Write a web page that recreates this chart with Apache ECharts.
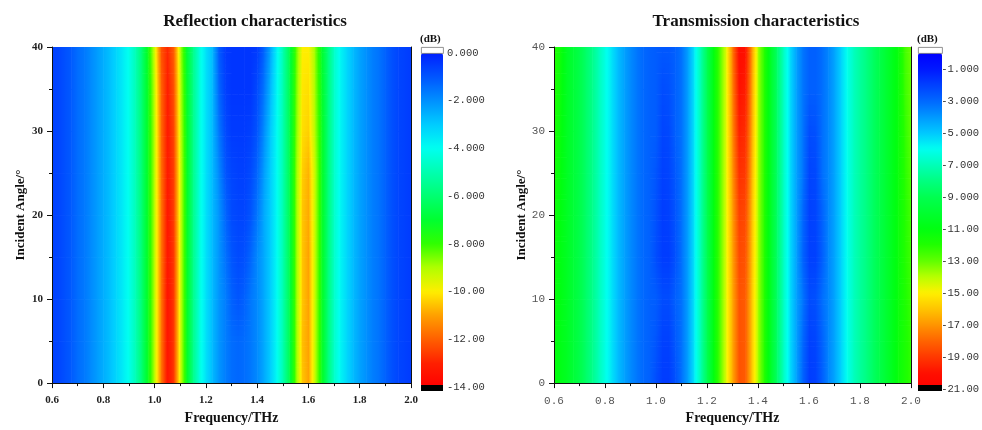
<!DOCTYPE html>
<html>
<head>
<meta charset="utf-8">
<script src="https://cdn.jsdelivr.net/npm/echarts@6/dist/echarts.min.js"></script>
<style>
  html,body{margin:0;padding:0;background:#fff;}
  #main{width:982px;height:430px;}
</style>
</head>
<body>
<div id="main"></div>
<script>
// frequency samples (THz) and incident angles (deg)
var freqs = [0.6,0.625,0.65,0.675,0.7,0.725,0.75,0.775,0.8,0.825,0.85,0.875,0.9,0.925,0.95,0.975,
  1.0,1.025,1.05,1.075,1.1,1.125,1.15,1.175,1.2,1.225,1.25,1.275,1.3,1.325,1.35,1.375,1.4,1.425,1.45,1.475,
  1.5,1.525,1.55,1.575,1.6,1.625,1.65,1.675,1.7,1.725,1.75,1.775,1.8,1.825,1.85,1.875,1.9,1.925,1.95,1.975,2.0];
var angles = [0,5,10,15,20,25,30,35,40];

// reflection (dB), one row per angle
var refl0  = [-0.6,-0.7,-0.9,-1.1,-1.4,-1.6,-1.9,-2.2,-2.5,-2.8,-3.2,-3.6,-4.1,-4.9,-6.0,-7.4,-9.2,-11.6,-13.4,-12.6,-9.4,-7.2,-5.6,-4.3,-3.4,-2.7,-2.1,-1.7,-1.4,-1.3,-1.4,-1.6,-1.9,-2.4,-3.0,-3.9,-5.0,-6.5,-8.5,-10.5,-11.0,-9.2,-7.4,-5.9,-4.6,-3.8,-3.2,-2.7,-2.3,-2.0,-1.7,-1.5,-1.2,-0.9,-0.7,-0.6,-0.5];
var refl5  = [-0.6,-0.7,-0.9,-1.1,-1.4,-1.6,-1.9,-2.2,-2.5,-2.8,-3.2,-3.6,-4.1,-4.9,-6.0,-7.4,-9.2,-11.6,-13.4,-12.6,-9.4,-7.2,-5.6,-4.3,-3.4,-2.7,-2.1,-1.7,-1.4,-1.3,-1.4,-1.6,-1.9,-2.4,-3.0,-3.9,-5.0,-6.5,-8.5,-10.6,-11.0,-9.2,-7.4,-5.9,-4.6,-3.8,-3.2,-2.7,-2.3,-2.0,-1.7,-1.5,-1.2,-0.9,-0.7,-0.6,-0.5];
var refl10 = [-0.6,-0.7,-0.9,-1.1,-1.4,-1.6,-1.9,-2.2,-2.5,-2.8,-3.2,-3.6,-4.1,-4.9,-6.0,-7.4,-9.2,-11.6,-13.4,-12.6,-9.4,-7.2,-5.6,-4.3,-3.4,-2.7,-2.1,-1.7,-1.2,-1.0,-1.2,-1.6,-1.9,-2.4,-3.0,-3.9,-5.0,-6.5,-8.5,-10.5,-11.0,-9.2,-7.4,-5.9,-4.6,-3.8,-3.2,-2.7,-2.3,-2.0,-1.7,-1.5,-1.2,-0.9,-0.7,-0.6,-0.5];
var refl15 = [-0.6,-0.7,-0.9,-1.1,-1.4,-1.6,-1.9,-2.2,-2.5,-2.8,-3.2,-3.6,-4.1,-4.9,-6.0,-7.4,-9.2,-11.6,-13.3,-12.6,-9.4,-7.2,-5.6,-4.3,-3.4,-2.7,-2.1,-1.5,-1.0,-0.8,-0.9,-1.3,-1.9,-2.4,-3.0,-3.9,-5.0,-6.5,-8.5,-10.5,-11.0,-9.2,-7.4,-5.9,-4.6,-3.8,-3.2,-2.7,-2.3,-2.0,-1.7,-1.5,-1.2,-0.9,-0.7,-0.6,-0.5];
var refl20 = [-0.6,-0.7,-0.9,-1.1,-1.4,-1.6,-1.9,-2.2,-2.5,-2.8,-3.2,-3.6,-4.1,-4.9,-6.0,-7.4,-9.2,-11.6,-13.3,-12.5,-9.4,-7.2,-5.6,-4.3,-3.4,-2.7,-2.1,-1.3,-0.8,-0.7,-0.7,-1.0,-1.6,-2.4,-3.0,-3.9,-5.0,-6.5,-8.5,-10.5,-10.9,-9.2,-7.4,-5.9,-4.6,-3.8,-3.2,-2.7,-2.3,-2.0,-1.7,-1.5,-1.2,-0.9,-0.7,-0.6,-0.5];
var refl25 = [-0.6,-0.7,-0.9,-1.1,-1.4,-1.6,-1.9,-2.2,-2.5,-2.8,-3.2,-3.6,-4.1,-4.9,-6.0,-7.4,-9.2,-11.7,-13.2,-12.5,-9.4,-7.2,-5.6,-4.3,-3.4,-2.7,-1.9,-1.0,-0.7,-0.6,-0.6,-0.8,-1.3,-2.2,-3.0,-3.9,-5.0,-6.5,-8.5,-10.4,-10.8,-9.2,-7.4,-5.9,-4.6,-3.8,-3.2,-2.7,-2.3,-2.0,-1.7,-1.5,-1.2,-0.9,-0.7,-0.6,-0.5];
var refl30 = [-0.6,-0.7,-0.9,-1.1,-1.4,-1.6,-1.9,-2.2,-2.5,-2.8,-3.2,-3.6,-4.1,-4.9,-6.0,-7.4,-9.2,-11.8,-13.2,-12.4,-9.3,-7.2,-5.6,-4.3,-3.4,-2.7,-1.6,-0.8,-0.5,-0.5,-0.5,-0.6,-1.0,-1.9,-2.9,-3.9,-5.0,-6.5,-8.4,-10.2,-10.4,-9.0,-7.4,-5.9,-4.6,-3.8,-3.2,-2.7,-2.3,-2.0,-1.7,-1.5,-1.2,-0.9,-0.7,-0.6,-0.5];
var refl35 = [-0.6,-0.7,-0.9,-1.1,-1.4,-1.6,-1.9,-2.2,-2.5,-2.8,-3.2,-3.6,-4.1,-4.9,-6.0,-7.4,-9.3,-11.9,-13.1,-12.2,-9.2,-7.1,-5.6,-4.3,-3.4,-2.7,-1.3,-0.6,-0.4,-0.4,-0.4,-0.4,-0.8,-1.5,-2.6,-3.8,-5.0,-6.5,-8.3,-10.1,-10.2,-8.9,-7.3,-5.9,-4.6,-3.8,-3.2,-2.7,-2.3,-2.0,-1.7,-1.5,-1.2,-0.9,-0.7,-0.6,-0.5];
var refl40 = [-0.6,-0.7,-0.9,-1.1,-1.4,-1.6,-1.9,-2.2,-2.5,-2.8,-3.2,-3.6,-4.1,-4.9,-6.0,-7.5,-9.5,-12.2,-12.9,-12.0,-9.0,-7.0,-5.6,-4.3,-3.4,-2.7,-1.1,-0.5,-0.4,-0.4,-0.4,-0.4,-0.5,-1.2,-2.3,-3.7,-5.0,-6.5,-8.2,-10.0,-10.0,-8.8,-7.2,-5.9,-4.6,-3.8,-3.2,-2.7,-2.3,-2.0,-1.7,-1.5,-1.2,-0.9,-0.7,-0.6,-0.5];
var reflection = [refl0, refl5, refl10, refl15, refl20, refl25, refl30, refl35, refl40];

// transmission (dB), one row per angle
var trans0  = [-11.2,-10.8,-10.4,-9.8,-9.2,-8.5,-7.8,-7.0,-6.2,-5.5,-4.8,-4.2,-3.7,-3.3,-3.0,-2.8,-2.3,-1.9,-1.9,-2.4,-3.2,-4.2,-5.6,-7.2,-9.0,-11.0,-12.8,-14.6,-16.6,-18.4,-18.2,-16.0,-13.8,-12.0,-10.2,-8.4,-6.8,-5.4,-4.2,-2.9,-1.9,-2.0,-2.7,-3.6,-4.3,-5.2,-6.1,-6.9,-7.5,-8.0,-8.6,-9.2,-9.9,-10.6,-11.3,-11.8,-12.3];
var trans5  = [-11.2,-10.8,-10.4,-9.8,-9.2,-8.5,-7.8,-7.0,-6.2,-5.5,-4.8,-4.2,-3.7,-3.3,-3.0,-2.8,-2.5,-2.0,-2.0,-2.6,-3.2,-4.2,-5.6,-7.2,-9.0,-11.0,-12.8,-14.6,-16.6,-18.4,-18.2,-16.0,-13.8,-12.0,-10.2,-8.4,-6.8,-5.4,-4.2,-3.0,-2.0,-2.1,-2.8,-3.6,-4.3,-5.2,-6.1,-6.9,-7.5,-8.0,-8.6,-9.2,-9.9,-10.6,-11.3,-11.8,-12.3];
var trans10 = [-11.3,-10.9,-10.4,-9.8,-9.2,-8.5,-7.8,-7.0,-6.2,-5.5,-4.8,-4.2,-3.7,-3.3,-3.0,-2.8,-2.7,-2.3,-2.3,-2.8,-3.2,-4.2,-5.6,-7.2,-9.0,-11.0,-12.8,-14.6,-16.6,-18.4,-18.2,-16.0,-13.8,-12.0,-10.2,-8.4,-6.8,-5.4,-4.2,-3.3,-2.3,-2.4,-3.1,-3.6,-4.3,-5.2,-6.1,-6.9,-7.5,-8.0,-8.6,-9.2,-9.9,-10.6,-11.3,-11.9,-12.4];
var trans15 = [-11.4,-10.9,-10.4,-9.8,-9.2,-8.5,-7.8,-7.0,-6.2,-5.5,-4.8,-4.2,-3.7,-3.3,-3.0,-2.8,-2.3,-1.9,-1.9,-2.4,-3.2,-4.2,-5.6,-7.2,-9.0,-11.0,-12.8,-14.6,-16.7,-18.6,-18.4,-16.1,-13.8,-12.0,-10.2,-8.4,-6.8,-5.4,-4.2,-2.9,-2.0,-2.0,-2.7,-3.6,-4.3,-5.2,-6.1,-6.9,-7.5,-8.0,-8.6,-9.2,-9.9,-10.6,-11.3,-12.0,-12.5];
var trans20 = [-11.5,-11.0,-10.4,-9.8,-9.2,-8.5,-7.8,-7.0,-6.2,-5.5,-4.8,-4.2,-3.7,-3.3,-3.0,-2.8,-2.4,-1.9,-2.0,-2.5,-3.2,-4.2,-5.6,-7.2,-9.0,-11.0,-12.8,-14.6,-16.8,-18.8,-18.6,-16.2,-13.8,-12.0,-10.2,-8.4,-6.8,-5.4,-4.2,-3.0,-2.0,-2.1,-2.8,-3.6,-4.3,-5.2,-6.1,-6.9,-7.5,-8.0,-8.6,-9.2,-9.9,-10.6,-11.3,-12.0,-12.6];
var trans25 = [-11.6,-11.1,-10.4,-9.8,-9.2,-8.5,-7.8,-7.0,-6.2,-5.5,-4.8,-4.2,-3.7,-3.3,-3.0,-2.8,-2.5,-2.0,-2.1,-2.6,-3.2,-4.2,-5.6,-7.2,-9.0,-11.0,-12.8,-14.6,-17.0,-19.2,-19.0,-16.4,-13.8,-12.0,-10.2,-8.4,-6.8,-5.4,-4.2,-3.3,-2.1,-2.2,-3.1,-3.6,-4.3,-5.2,-6.1,-6.9,-7.5,-8.0,-8.6,-9.2,-9.9,-10.6,-11.3,-12.1,-12.8];
var trans30 = [-11.8,-11.2,-10.4,-9.8,-9.2,-8.5,-7.8,-7.0,-6.2,-5.5,-4.8,-4.2,-3.7,-3.3,-3.0,-2.8,-2.7,-2.1,-2.2,-2.8,-3.2,-4.2,-5.6,-7.2,-9.0,-11.0,-12.8,-14.6,-17.2,-19.6,-19.3,-16.6,-13.8,-12.0,-10.2,-8.4,-6.8,-5.4,-4.2,-3.3,-2.3,-2.4,-3.1,-3.6,-4.3,-5.2,-6.1,-6.9,-7.5,-8.0,-8.6,-9.2,-9.9,-10.6,-11.3,-12.2,-13.0];
var trans35 = [-11.9,-11.3,-10.4,-9.8,-9.2,-8.5,-7.8,-7.0,-6.2,-5.5,-4.8,-4.2,-3.7,-3.3,-3.0,-2.8,-2.7,-2.3,-2.4,-2.8,-3.2,-4.2,-5.6,-7.2,-9.0,-11.0,-12.8,-14.6,-17.4,-20.0,-19.7,-16.8,-13.8,-12.0,-10.2,-8.4,-6.8,-5.4,-4.2,-3.3,-2.8,-2.8,-3.1,-3.6,-4.3,-5.2,-6.1,-6.9,-7.5,-8.0,-8.6,-9.2,-9.9,-10.6,-11.3,-12.4,-13.1];
var trans40 = [-12.0,-11.4,-10.4,-9.8,-9.2,-8.5,-7.8,-7.0,-6.2,-5.5,-4.8,-4.2,-3.7,-3.3,-3.0,-2.8,-2.7,-2.6,-2.6,-2.8,-3.2,-4.2,-5.6,-7.2,-9.0,-11.0,-12.8,-14.6,-17.6,-20.3,-20.0,-17.0,-13.8,-12.0,-10.2,-8.4,-6.8,-5.4,-4.2,-3.3,-2.8,-2.8,-3.1,-3.6,-4.3,-5.2,-6.1,-6.9,-7.5,-8.0,-8.6,-9.2,-9.9,-10.6,-11.3,-12.5,-13.2];
var transmission = [trans0, trans5, trans10, trans15, trans20, trans25, trans30, trans35, trans40];

var reflRange = [-14, 0];
var transRange = [-21, 0];

// colour scales, one colour per dB step from the lowest level upward
var reflColors = ['#ff0000','#ff2000','#ff6000','#ffa000','#ffee00','#b0ff00','#30ff00','#00ff30',
  '#00ff70','#00ffb0','#00fff0','#00ccff','#0090ff','#0055ff','#0020ff'];
var transColors = ['#ff0000','#ff1000','#ff3800','#ff6400','#ff9400','#ffc400','#fff000','#b8ff00',
  '#60ff00','#20ff00','#00ff10','#00ff30','#00ff50','#00ff80','#00ffb8','#00fff0','#00c8ff',
  '#0098ff','#0068ff','#0040ff','#0018ff','#0000ff'];

function toCells(rows) {
  var out = [];
  for (var i = 0; i < angles.length; i++) {
    for (var j = 0; j < freqs.length; j++) {
      out.push([freqs[j], angles[i], rows[i][j]]);
    }
  }
  return out;
}

function levelColor(v, range, colors) {
  var t = (v - range[0]) / (range[1] - range[0]);
  return echarts.color.lerp(Math.max(0, Math.min(1, t)), colors);
}

// horizontal gradient from value vl to vr, with a stop at every dB level crossed
function stripFill(vl, vr, range, colors) {
  var stops = [{ offset: 0, color: levelColor(vl, range, colors) }];
  if (vl !== vr) {
    var lo = Math.min(vl, vr), hi = Math.max(vl, vr);
    var lv = [];
    for (var k = Math.ceil(lo); k < hi; k++) { if (k > lo) lv.push(k); }
    if (vl > vr) lv.reverse();
    for (var m = 0; m < lv.length; m++) {
      stops.push({ offset: (lv[m] - vl) / (vr - vl), color: levelColor(lv[m], range, colors) });
    }
  }
  stops.push({ offset: 1, color: levelColor(vr, range, colors) });
  return new echarts.graphic.LinearGradient(0, 0, 1, 0, stops);
}

// each node paints the patch up to its right/upper neighbours (shaded contour look)
function makeRenderer(rows, range, colors) {
  return function (params, api) {
    var nf = freqs.length;
    var i = Math.floor(params.dataIndex / nf), j = params.dataIndex % nf;
    if (i >= angles.length - 1 || j >= nf - 1) return null;
    var p0 = api.coord([freqs[j], angles[i + 1]]);
    var p1 = api.coord([freqs[j + 1], angles[i]]);
    var w = p1[0] - p0[0], h = p1[1] - p0[1];
    var a = rows[i][j], b = rows[i][j + 1], c = rows[i + 1][j], d = rows[i + 1][j + 1];
    var n = (a === c && b === d) ? 1 : 8;
    var kids = [];
    for (var k = 0; k < n; k++) {
      var u = 1 - (k + 0.5) / n;
      var vl = a + (c - a) * u, vr = b + (d - b) * u;
      kids.push({
        type: 'rect',
        shape: { x: p0[0], y: p0[1] + k * h / n, width: w + 0.6, height: h / n + 0.6 },
        style: { fill: stripFill(vl, vr, range, colors) }
      });
    }
    return { type: 'group', children: kids };
  };
}

var serif = 'Liberation Serif';
var mono = 'Liberation Mono';

function freqAxis(grid, boldStyle) {
  return {
    type: 'value', gridIndex: grid, min: 0.6, max: 2.0, interval: 0.2, z: 5,
    name: 'Frequency/THz', nameLocation: 'middle', nameGap: 24,
    nameTextStyle: { fontFamily: serif, fontWeight: 'bold', fontSize: 14, color: '#111' },
    axisLine: { lineStyle: { color: '#111', width: 1 } },
    axisTick: { show: true, length: 5, lineStyle: { color: '#111' } },
    minorTick: { show: true, splitNumber: 2, length: 3, lineStyle: { color: '#111' } },
    splitLine: { show: false },
    axisLabel: boldStyle ?
      { margin: 12, fontFamily: serif, fontWeight: 'bold', fontSize: 11, color: '#222',
        formatter: function (v) { return v.toFixed(1); } } :
      { margin: 12, fontFamily: mono, fontSize: 11, color: '#555',
        formatter: function (v) { return v.toFixed(1); } }
  };
}

function angleAxis(grid, boldStyle) {
  return {
    type: 'value', gridIndex: grid, min: 0, max: 40, interval: 10, z: 5,
    name: 'Incident Angle/°', nameLocation: 'middle', nameGap: 25,
    nameTextStyle: { fontFamily: serif, fontWeight: 'bold', fontSize: 13, color: '#111' },
    axisLine: { lineStyle: { color: '#111', width: 1 } },
    axisTick: { show: true, length: 5, lineStyle: { color: '#111' } },
    minorTick: { show: true, splitNumber: 2, length: 3, lineStyle: { color: '#111' } },
    splitLine: { show: false },
    axisLabel: boldStyle ?
      { margin: 9, fontFamily: serif, fontWeight: 'bold', fontSize: 11, color: '#222' } :
      { margin: 9, fontFamily: mono, fontSize: 11, color: '#555' }
  };
}

function frameAxis(grid, isX) {
  var ax = {
    type: 'value', gridIndex: grid, z: 5,
    position: isX ? 'top' : 'right',
    axisLine: { lineStyle: { color: '#111', width: 1 } },
    axisTick: { show: false }, axisLabel: { show: false }, splitLine: { show: false }
  };
  if (isX) { ax.min = 0.6; ax.max = 2.0; } else { ax.min = 0; ax.max = 40; }
  return ax;
}

function barAxis(grid, range, hideZero) {
  return {
    type: 'value', gridIndex: grid, min: range[0], max: range[1], interval: 2, position: 'right',
    axisLine: { show: false }, axisTick: { show: false }, splitLine: { show: false },
    axisLabel: {
      margin: 4, fontFamily: mono, fontSize: 10.5, color: '#333',
      formatter: function (v) { return (hideZero && v === 0) ? '' : v.toPrecision(4); }
    }
  };
}

var chart = echarts.init(document.getElementById('main'));
var option = {
  backgroundColor: '#fff',
  animation: false,
  title: [
    { text: 'Reflection characteristics', left: 250, top: 8, textAlign: 'center',
      textStyle: { fontFamily: serif, fontWeight: 'bold', fontSize: 17, color: '#111' } },
    { text: 'Transmission characteristics', left: 751, top: 8, textAlign: 'center',
      textStyle: { fontFamily: serif, fontWeight: 'bold', fontSize: 17, color: '#111' } }
  ],
  grid: [
    { left: 52, top: 47, width: 359, height: 344 },
    { left: 554, top: 47, width: 357, height: 344 },
    { left: 421, top: 53, width: 22, height: 334 },
    { left: 918, top: 53, width: 24, height: 336 }
  ],
  xAxis: [
    freqAxis(0, true), freqAxis(1, false), frameAxis(0, true), frameAxis(1, true),
    { type: 'value', gridIndex: 2, show: false }, { type: 'value', gridIndex: 3, show: false }
  ],
  yAxis: [
    angleAxis(0, true), angleAxis(1, false), frameAxis(0, false), frameAxis(1, false),
    barAxis(2, reflRange, false), barAxis(3, transRange, true)
  ],
  visualMap: [
    { type: 'continuous', seriesIndex: 0, dimension: 2, min: reflRange[0], max: reflRange[1],
      inRange: { color: reflColors }, calculable: false, text: null, padding: 0,
      left: 421, top: 53, itemWidth: 22, itemHeight: 334, hoverLink: false },
    { type: 'continuous', seriesIndex: 1, dimension: 2, min: transRange[0], max: transRange[1],
      inRange: { color: transColors }, calculable: false, text: null, padding: 0,
      left: 918, top: 53, itemWidth: 24, itemHeight: 336, hoverLink: false }
  ],
  graphic: [
    { type: 'rect', left: 421, top: 47, shape: { width: 22, height: 6 },
      style: { fill: '#fff', stroke: '#777', lineWidth: 0.8 }, z: 10 },
    { type: 'rect', left: 421, top: 385, shape: { width: 22, height: 6 }, style: { fill: '#000' }, z: 10 },
    { type: 'rect', left: 918, top: 47, shape: { width: 24, height: 6 },
      style: { fill: '#fff', stroke: '#777', lineWidth: 0.8 }, z: 10 },
    { type: 'rect', left: 918, top: 385, shape: { width: 24, height: 6 }, style: { fill: '#000' }, z: 10 },
    { type: 'text', left: 420, top: 34, z: 10,
      style: { text: '(dB)', font: 'bold 11px "Liberation Serif"', fill: '#111' } },
    { type: 'text', left: 917, top: 34, z: 10,
      style: { text: '(dB)', font: 'bold 11px "Liberation Serif"', fill: '#111' } }
  ],
  series: [
    { type: 'custom', xAxisIndex: 0, yAxisIndex: 0, clip: true,
      renderItem: makeRenderer(reflection, reflRange, reflColors),
      data: toCells(reflection), silent: true, z: 1 },
    { type: 'custom', xAxisIndex: 1, yAxisIndex: 1, clip: true,
      renderItem: makeRenderer(transmission, transRange, transColors),
      data: toCells(transmission), silent: true, z: 1 }
  ]
};
chart.setOption(option);
</script>
</body>
</html>
